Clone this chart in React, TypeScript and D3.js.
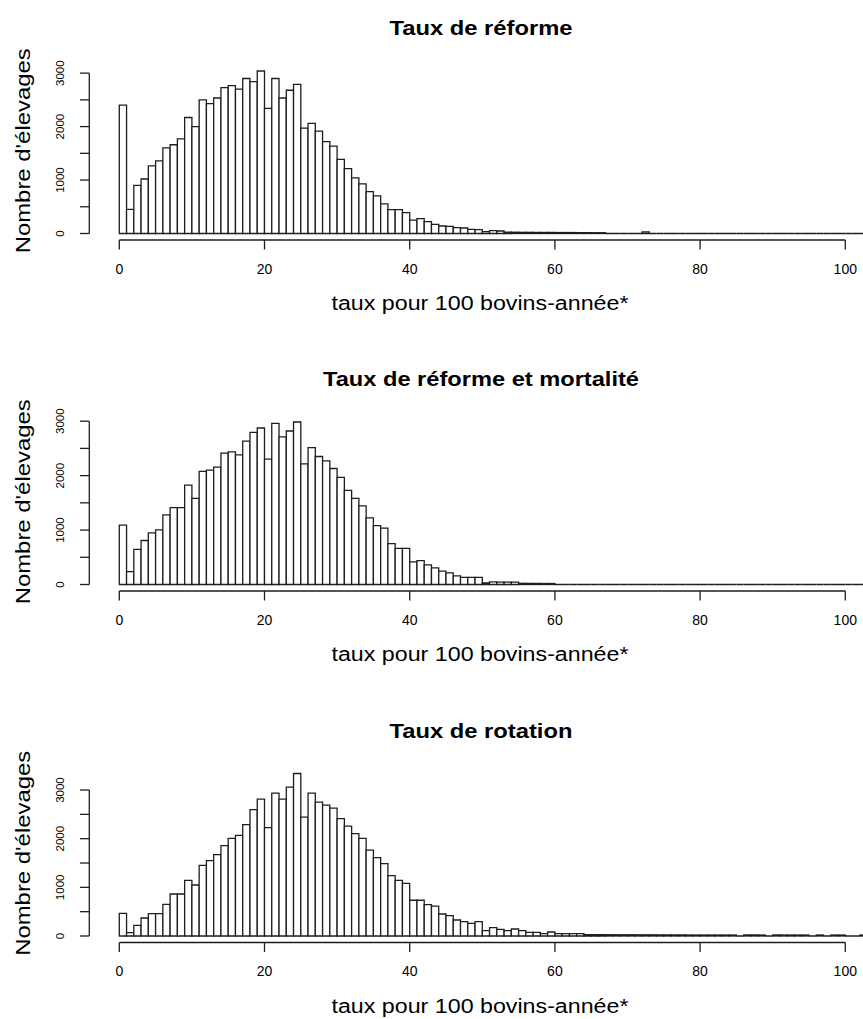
import React from "react";
import * as d3 from "d3";

const TITLES = ["Taux de réforme", "Taux de réforme et mortalité", "Taux de rotation"];
const X_LABEL = "taux pour 100 bovins-année*";
const Y_LABEL = "Nombre d'élevages";
const X_TICKS = [0, 20, 40, 60, 80, 100];
const Y_TICKS = [0, 500, 1000, 1500, 2000, 2500, 3000];
const Y_TICK_LABELS = [0, 1000, 2000, 3000];

// counts per 1-unit bin, bins starting at 0, 1, 2, ...
const reforme = [
  2400, 450, 900, 1020, 1265, 1360, 1600, 1660, 1770, 2170,
  2000, 2500, 2430, 2535, 2730, 2765, 2700, 2900, 2840, 3040,
  2340, 2900, 2535, 2680, 2790, 1970, 2060, 1915, 1720, 1635,
  1385, 1215, 1040, 930, 785, 705, 555, 445, 445, 390,
  250, 278, 222, 172, 140, 134, 109, 103, 78, 72,
  34, 53, 47, 26, 24, 22, 22, 20, 20, 20,
  18, 18, 18, 16, 16, 15, 15, 0, 0, 0,
  0, 0, 32, 0, 0, 0, 0, 0, 0, 0,
  0, 0, 0, 0, 0, 0, 0, 0, 0, 0,
  0, 0, 0, 0, 0, 0, 0, 0, 0, 0,
  0, 0, 0, 0,
];

const reformeMortalite = [
  1090, 236, 644, 808, 949, 1004, 1278, 1412, 1412, 1827,
  1583, 2077, 2101, 2156, 2412, 2436, 2381, 2632, 2796, 2875,
  2302, 2961, 2711, 2820, 2985, 2217, 2516, 2351, 2272, 2131,
  1967, 1729, 1583, 1443, 1223, 1083, 1034, 750, 665, 665,
  415, 440, 360, 305, 245, 215, 160, 130, 130, 130,
  28, 50, 45, 45, 45, 22, 20, 20, 18, 18,
  0, 0, 0, 0, 0, 0, 0, 0, 0, 0,
  0, 0, 0, 0, 0, 0, 0, 0, 0, 0,
  0, 0, 0, 0, 0, 0, 0, 0, 0, 0,
  0, 0, 0, 0, 0, 0, 0, 0, 0, 0,
  0, 0, 0, 0,
];

const rotation = [
  466, 69, 219, 370, 459, 459, 651, 863, 863, 1144,
  1048, 1452, 1548, 1671, 1856, 2007, 2069, 2288, 2596, 2815,
  2226, 2938, 2815, 3061, 3340, 2445, 2938, 2753, 2692, 2630,
  2411, 2260, 2103, 2007, 1767, 1610, 1487, 1240, 1144, 1083,
  735, 735, 645, 615, 452, 418, 329, 295, 260, 295,
  110, 171, 137, 110, 144, 110, 75, 75, 48, 82,
  48, 48, 48, 48, 30, 28, 28, 26, 26, 25,
  25, 24, 24, 24, 22, 22, 22, 22, 20, 20,
  20, 20, 20, 20, 20, 0, 22, 22, 20, 0,
  22, 20, 20, 20, 20, 0, 20, 0, 20, 20,
  0, 0, 20, 0,
];

const SERIES = [reforme, reformeMortalite, rotation];
const PANEL_OFFSETS = [0, 351, 702.5];
const TITLE_WIDTHS = [183, 316, 183];

const INK = "#1e1e1e";
const FONT = "'Liberation Sans', Arial, sans-serif";

function Panel({ values, title, titleWidth, dy }: { values: number[]; title: string; titleWidth: number; dy: number }) {
  const x = d3.scaleLinear().domain([0, 100]).range([119.3, 845.3]);
  const max = d3.max(values) as number;
  const y = d3.scaleLinear().domain([0, max]).range([233.5 + dy, 233.5 + dy - 162.5]);
  const axisY = 240 + dy;
  const axisX = 89.3;
  const barPath = (v: number, i: number) => {
    const p = d3.path();
    p.moveTo(x(i), y(0));
    p.lineTo(x(i), y(v));
    p.lineTo(x(i + 1), y(v));
    p.lineTo(x(i + 1), y(0));
    p.closePath();
    return p.toString();
  };
  return (
    <g>
      <text x={481} y={35 + dy} textAnchor="middle" fontFamily={FONT} fontWeight="bold" fontSize={20}
        textLength={titleWidth} lengthAdjust="spacingAndGlyphs" fill="#000">
        {title}
      </text>
      {values.map((v, i) => (
        <path key={i} d={barPath(v, i)} fill="#fff" stroke={INK} strokeWidth={1.3} />
      ))}
      {/* x axis */}
      <line x1={x(0)} x2={x(100)} y1={axisY} y2={axisY} stroke={INK} strokeWidth={1.3} />
      {X_TICKS.map((t) => (
        <g key={t}>
          <line x1={x(t)} x2={x(t)} y1={axisY} y2={axisY + 9.5} stroke={INK} strokeWidth={1.3} />
          <text x={x(t)} y={273.5 + dy} textAnchor="middle" fontFamily={FONT} fontSize={14} fill="#000">{t}</text>
        </g>
      ))}
      <text x={480} y={310 + dy} textAnchor="middle" fontFamily={FONT} fontSize={20}
        textLength={297} lengthAdjust="spacingAndGlyphs" fill="#000">{X_LABEL}</text>
      {/* y axis */}
      <line x1={axisX} x2={axisX} y1={y(0)} y2={y(3000)} stroke={INK} strokeWidth={1.3} />
      {Y_TICKS.map((t) => (
        <line key={t} x1={axisX - 9.3} x2={axisX} y1={y(t)} y2={y(t)} stroke={INK} strokeWidth={1.3} />
      ))}
      {Y_TICK_LABELS.map((t) => (
        <text key={t} transform={`translate(64.3,${y(t)}) rotate(-90)`} textAnchor="middle"
          fontFamily={FONT} fontSize={11.5} fill="#000">{t}</text>
      ))}
      <text transform={`translate(29.5,${150.8 + dy}) rotate(-90)`} textAnchor="middle" fontFamily={FONT}
        fontSize={20} textLength={205} lengthAdjust="spacingAndGlyphs" fill="#000">{Y_LABEL}</text>
    </g>
  );
}

export default function App() {
  return (
    <svg width={863} height={1019} style={{ position: "absolute", left: 0, top: 0, display: "block", background: "#fff" }}>
      <rect x={0} y={0} width={863} height={1019} fill="#fff" />
      {SERIES.map((vals, k) => (
        <Panel key={k} values={vals} title={TITLES[k]} titleWidth={TITLE_WIDTHS[k]} dy={PANEL_OFFSETS[k]} />
      ))}
    </svg>
  );
}
